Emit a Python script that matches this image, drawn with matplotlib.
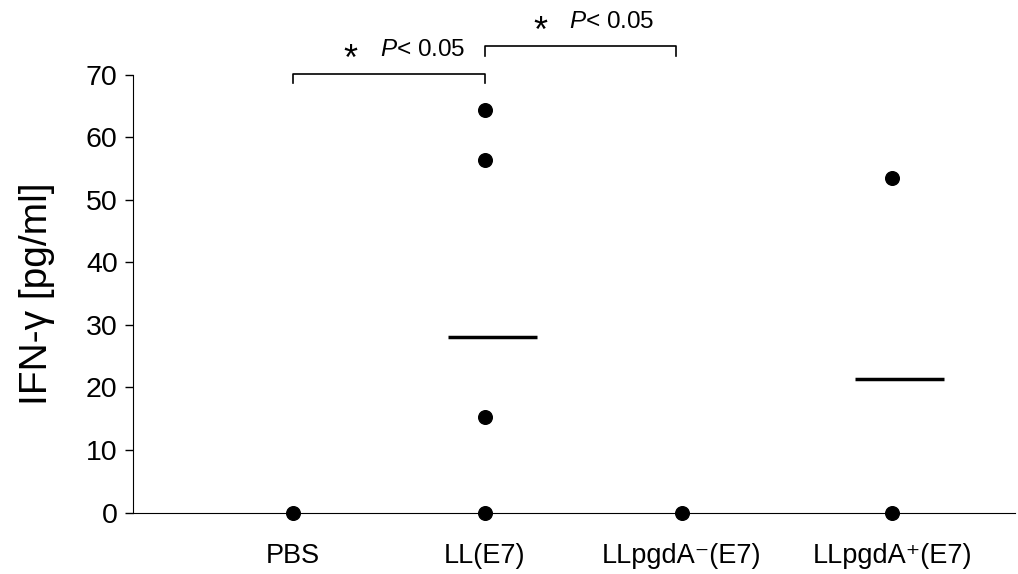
import matplotlib
matplotlib.use("Agg")
from matplotlib import pyplot as plt

groups = ["PBS", "LL(E7)", "LLpgdA\u207b(E7)", "LLpgdA\u207a(E7)"]
group_x = [0, 1, 2.03, 3.13]
values = [[0], [64.3, 56.4, 15.2, 0], [0], [53.5, 0]]
mean_groups = [1, 3]
mean_values = [28.0, 21.4]
yticks = [0, 10, 20, 30, 40, 50, 60, 70]

plt.rcParams['font.family'] = ['Liberation Sans', 'DejaVu Sans']
plt.rcParams['mathtext.fontset'] = 'custom'
plt.rcParams['mathtext.it'] = 'Liberation Sans:italic'
plt.rcParams['mathtext.rm'] = 'Liberation Sans'

fig = plt.figure(figsize=(10.18, 5.74), dpi=100)
ax = fig.add_axes([0.1306, 0.107, 0.866, 0.763])

for x, vals in zip(group_x, values):
    ax.plot([x] * len(vals), vals, 'o', color='black', markersize=9.8,
            linestyle='none', clip_on=False, zorder=3)

for g, m in zip(mean_groups, mean_values):
    c = group_x[g] + 0.04
    ax.plot([c - 0.233, c + 0.233], [m, m], color='black', linewidth=2.5,
            solid_capstyle='butt')

ax.set_xlim(-0.838, 3.77)
ax.set_ylim(0, 70)
ax.set_yticks(yticks)
ax.set_xticks(group_x)
ax.set_xticklabels(groups, fontsize=19.5)
ax.tick_params(axis='x', length=0, pad=22)
ax.tick_params(axis='y', direction='out', length=6, width=1, labelsize=20.5, pad=5)
ax.spines['top'].set_visible(False)
ax.spines['right'].set_visible(False)
ax.set_ylabel("IFN-\u03b3 [pg/ml]", fontsize=28, labelpad=22)

# significance brackets
def bracket(x1, x2, y, drop, star_x, txt_x, txt_y):
    ax.plot([x1, x1, x2, x2], [y - drop, y, y, y - drop], color='black',
            linewidth=1.2, clip_on=False)
    ax.text(star_x, txt_y - 1.6, "*", fontsize=26, ha='center', va='center')
    ax.text(txt_x, txt_y, "$\\it{P}$< 0.05", fontsize=17.5, ha='left', va='center')

bracket(group_x[0], group_x[1], 70.05, 1.4, 0.30, 0.455, 73.9)
bracket(group_x[1], group_x[2] - 0.03, 74.5, 1.6, 1.29, 1.44, 78.4)

fig.savefig("out.png", dpi=100)
